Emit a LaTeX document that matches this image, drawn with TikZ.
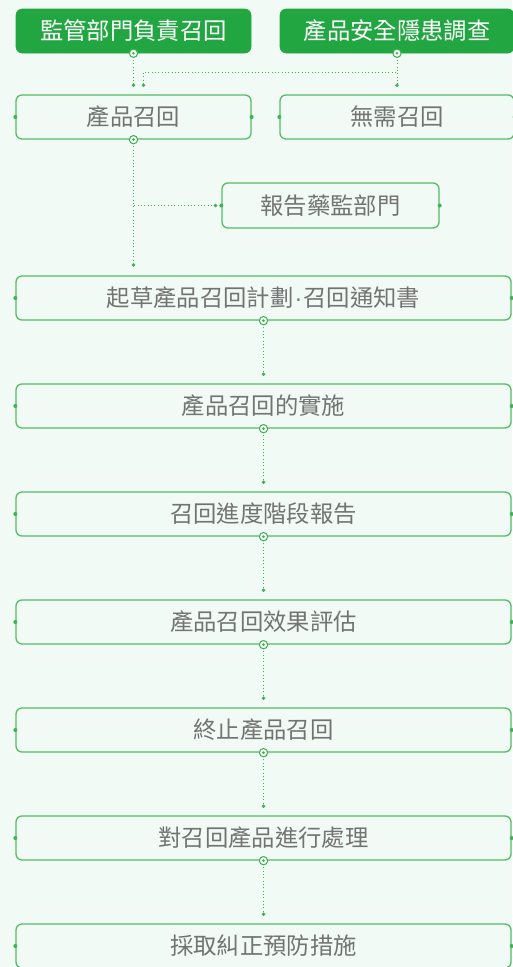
\documentclass[tikz,border=0pt]{standalone}
\usepackage{fontspec}
\newfontfamily\cjk{Noto Sans CJK TC}
\newfontfamily\latinsans{Liberation Sans}
\usetikzlibrary{arrows.meta}
\definecolor{bg}{HTML}{F1FAF5}
\definecolor{gfill}{HTML}{21A642}
\definecolor{gline}{HTML}{55BD68}
\definecolor{gconn}{HTML}{3DB354}
\definecolor{txt}{HTML}{737373}
\tikzset{
  basebox/.style={rounded corners=4.5pt, minimum height=33pt, inner sep=0pt, font=\cjk\fontsize{17.5}{20}\selectfont},
  greenbox/.style={basebox, fill=gfill, draw=gfill, text=white},
  whitebox/.style={basebox, fill=bg, draw=gline, line width=1pt, text=txt},
  conn/.style={draw=gconn, line width=0.5pt, dotted, shorten >=5.5pt, -{Circle[length=2.6pt, fill=gconn]}},
  ring/.style={circle, draw=gconn, fill=white, line width=0.8pt, minimum size=6.2pt, inner sep=0pt},
  sidedot/.style={circle, fill=gconn, minimum size=3pt, inner sep=0pt},
}
\newcommand{\ringat}[1]{\node[ring] at (#1) {}; \fill[gconn] (#1) circle (1.1pt);}
\newcommand{\sides}[1]{\node[sidedot] at (#1.west) {}; \node[sidedot] at (#1.east) {};}
\begin{document}
\begin{tikzpicture}[x=0.75pt, y=-0.75pt]
\fill[bg] (0,0) rectangle (512,967);
\useasboundingbox (0,0) rectangle (512,967);

\node[greenbox, minimum width=176.25pt] (top1) at (133.5,31) {監管部門負責召回};
\node[greenbox, minimum width=175.5pt] (top2) at (397,31) {產品安全隱患調查};
\node[whitebox, minimum width=176.25pt] (recall) at (133.5,117) {產品召回};
\node[whitebox, minimum width=175.5pt] (norecall) at (397,117) {無需召回};
\node[whitebox, minimum width=162.75pt, minimum height=33.75pt] (report) at (330.5,205.5) {報告藥監部門};
\node[whitebox, minimum width=371.25pt] (draft) at (263.5,298) {起草產品召回計劃\hbox{\latinsans\kern0.8pt·\kern0.8pt}召回通知書};
\node[whitebox, minimum width=371.25pt] (impl) at (263.5,406) {產品召回的實施};
\node[whitebox, minimum width=371.25pt] (prog) at (263.5,514) {召回進度階段報告};
\node[whitebox, minimum width=371.25pt] (eval) at (263.5,622) {產品召回效果評估};
\node[whitebox, minimum width=371.25pt] (stop) at (263.5,730) {終止產品召回};
\node[whitebox, minimum width=371.25pt] (handle) at (263.5,838) {對召回產品進行處理};
\node[whitebox, minimum width=371.25pt] (corr) at (263.5,946) {採取糾正預防措施};

% connectors
\draw[conn] (top1.south) -- (recall.north);
\draw[conn] (top2.south) -- (top2.south |- 0,72) -| ([xshift=7.5pt]recall.north);
\draw[conn] (top2.south) -- (norecall.north);
\draw[conn, shorten >=3pt] (recall.south) |- (report.west);
\draw[conn, shorten >=6.5pt] (recall.south) -- (recall.south |- draft.north);
\draw[conn] (draft.south) -- (impl.north);
\draw[conn] (impl.south) -- (prog.north);
\draw[conn] (prog.south) -- (eval.north);
\draw[conn] (eval.south) -- (stop.north);
\draw[conn] (stop.south) -- (handle.north);
\draw[conn] (handle.south) -- (corr.north);

% side dots
\foreach \n in {recall,norecall,report,draft,impl,prog,eval,stop,handle,corr} {\sides{\n}}

% rings
\foreach \n in {top1,top2,recall,draft,impl,prog,eval,stop,handle} {\ringat{\n.south}}
\end{tikzpicture}
\end{document}
